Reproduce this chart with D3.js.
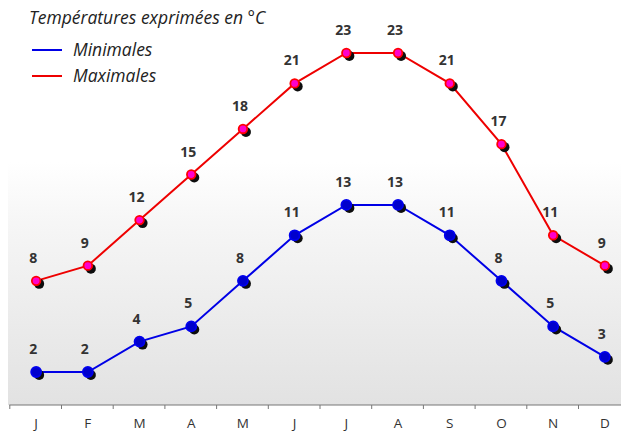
<!DOCTYPE html>
<html><head><meta charset="utf-8">
<script src="https://cdn.jsdelivr.net/npm/d3@7"></script>
<style>body{margin:0;background:#fff}svg{display:block}</style>
</head><body>
<svg id="c" width="621" height="432"></svg>
<script>
const months = ["J","F","M","A","M","J","J","A","S","O","N","D"];
const minimales = [2,2,4,5,8,11,13,13,11,8,5,3];
const maximales = [8,9,12,15,18,21,23,23,21,17,11,9];
const title = "Températures exprimées en °C";
const legendLabels = ["Minimales","Maximales"];

const svg = d3.select("#c");
const W = 621, H = 432;
const x0 = 9.3, bandW = 51.7, axisY = 405;
const x = d3.scaleBand().domain(d3.range(12)).range([x0, x0 + bandW*12]).padding(0);
const y = d3.scaleLinear().domain([2,23]).range([372,53]);
const cx = i => x(i) + x.bandwidth()/2 + 1;
const fam = "Open Sans, DejaVu Sans, sans-serif";

const defs = svg.append("defs");
const g = defs.append("linearGradient").attr("id","bg").attr("x1",0).attr("y1",0).attr("x2",0).attr("y2",1);
g.append("stop").attr("offset","0%").attr("stop-color","#ffffff");
g.append("stop").attr("offset","40%").attr("stop-color","#ffffff");
g.append("stop").attr("offset","55%").attr("stop-color","#f6f6f6");
g.append("stop").attr("offset","100%").attr("stop-color","#e2e2e2");
const f = defs.append("filter").attr("id","blur").attr("x","-50%").attr("y","-50%").attr("width","200%").attr("height","200%");
f.append("feGaussianBlur").attr("stdDeviation",0.6);

svg.append("rect").attr("x",8).attr("y",0).attr("width",W-8).attr("height",axisY).attr("fill","url(#bg)");

// axis
const axis = d3.axisBottom(d3.scaleLinear().domain([0,12]).range([x0, x0+bandW*12]))
  .tickValues(d3.range(12)).tickSize(4).tickFormat("");
const ag = svg.append("g").attr("transform",`translate(0,${axisY})`).call(axis);
ag.select(".domain").attr("stroke","#777").attr("d",`M${x0},0H${W}`);
ag.selectAll(".tick line").attr("stroke","#777");
svg.append("g").selectAll("text").data(months).join("text")
  .attr("x",(d,i)=>cx(i)).attr("y",428).attr("text-anchor","middle")
  .attr("font-family",fam).attr("font-size",13.5).attr("fill","#333")
  .text(d=>d);

function series(vals, lineColor, fillColor, strokeColor, r){
  const line = d3.line().x((d,i)=>cx(i)).y(d=>y(d));
  svg.append("path").datum(vals).attr("d",line).attr("fill","none").attr("stroke",lineColor).attr("stroke-width",2);
  const gg = svg.append("g");
  gg.selectAll("circle.s").data(vals).join("circle").attr("class","s")
    .attr("cx",(d,i)=>cx(i)+3).attr("cy",d=>y(d)+3).attr("r",5).attr("fill","#0a0a0a").attr("filter","url(#blur)");
  gg.selectAll("circle.m").data(vals).join("circle").attr("class","m")
    .attr("cx",(d,i)=>cx(i)).attr("cy",d=>y(d)).attr("r",r).attr("fill",fillColor).attr("stroke",strokeColor).attr("stroke-width",1.8);
  svg.append("g").selectAll("text").data(vals).join("text")
    .attr("x",(d,i)=>cx(i)-3).attr("y",d=>y(d)-18).attr("text-anchor","middle")
    .attr("font-family",fam).attr("font-size",14).attr("font-weight","bold").attr("fill","#333")
    .text(d=>d);
}
series(minimales, "#0000e6", "#0000cc", "#0000ee", 5);
series(maximales, "#ee0000", "#ff00cc", "#ff0000", 4.3);

// title & legend
svg.append("text").attr("x",29).attr("y",24).attr("font-family",fam).attr("font-style","italic").attr("font-size",17.5).attr("fill","#222").text(title);
const legColors = ["#0000e6","#ee0000"];
legendLabels.forEach((l,i)=>{
  const ly = 50 + i*26;
  svg.append("line").attr("x1",32).attr("x2",62).attr("y1",ly).attr("y2",ly).attr("stroke",legColors[i]).attr("stroke-width",2);
  svg.append("text").attr("x",73).attr("y",ly+6).attr("font-family",fam).attr("font-style","italic").attr("font-size",17.5).attr("fill","#222").text(l);
});
</script>
</body></html>
